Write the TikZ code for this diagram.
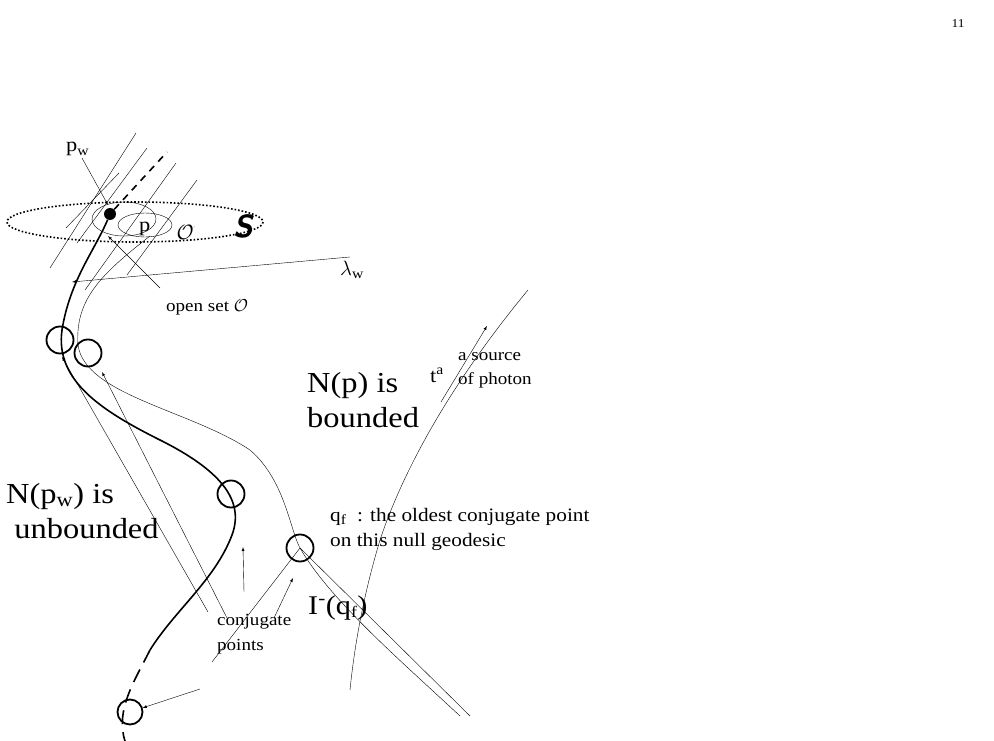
\documentclass[tikz,border=0pt]{standalone}
\usepackage{fontspec}
\setmainfont[FakeStretch=1.12]{Liberation Serif}
\usetikzlibrary{calc}

\begin{document}
\begin{tikzpicture}[x=1pt,y=-1pt]
\tikzstyle{lbl}=[font=\fontsize{20}{25}\selectfont, inner sep=0pt, anchor=base west, align=left]
\tikzstyle{big}=[font=\fontsize{29}{35}\selectfont, inner sep=0pt, anchor=base west, align=left]
\tikzstyle{ring}=[draw, circle, line width=1.8pt, minimum size=27pt, inner sep=0pt]
\tikzstyle{ptr}=[-latex, thin]

\useasboundingbox (0,0) rectangle (994,741);

\node[font=\fontsize{12}{14}\selectfont] (page) at (958,24) {11};

% the surface S and its open sets
\draw[dotted, line width=1.6pt] (135,222) ellipse [x radius=128, y radius=20];
\draw (124,219) ellipse [x radius=32, y radius=17];
\draw (145,225) ellipse [x radius=27, y radius=12];
\node[lbl] (plab) at (139,232) {p};
\node[font=\fontsize{22}{22}\selectfont, inner sep=0pt] (oprime) at (186,232) {$\mathcal{O}$\textsuperscript{\tiny\'{}}};
\node[font=\fontsize{32}{32}\selectfont\bfseries\itshape, inner sep=0pt] (Slab) at (243,226) {\textsf{S}};

% null lines through the set
\coordinate (h1a) at (50,268);  \coordinate (h1b) at (136,133);
\coordinate (h2a) at (66,228);  \coordinate (h2b) at (119,173);
\coordinate (h3a) at (77,243);  \coordinate (h3b) at (147,148);
\coordinate (h4a) at (85,290);  \coordinate (h4b) at (176,163);
\coordinate (h5a) at (127,275); \coordinate (h5b) at (197,180);
\foreach \i in {1,...,5}{ \draw (h\i a) -- (h\i b); }

% the geodesic through p_w
\node[circle, fill, inner sep=0pt, minimum size=12pt] (pw) at (110,214) {};
\draw[line width=1.6pt, dash pattern=on 7pt off 6pt] (pw) -- (167,152);
\draw[line width=1.6pt] (pw) .. controls (95,250) and (70,280) .. (62,330)
  .. controls (55,380) and (100,410) .. (160,440)
  .. controls (220,470) and (245,500) .. (232,535)
  .. controls (215,580) and (175,610) .. (150,650) coordinate (dashstart);
\draw[line width=1.6pt, dash pattern=on 14pt off 8pt] (dashstart) .. controls (135,680) and (115,710) .. (125,741);

% the geodesic through p
\draw (150,236) .. controls (100,275) and (75,300) .. (78,345)
  .. controls (85,395) and (190,410) .. (250,450)
  .. controls (285,480) and (290,530) .. (300,548) coordinate (qf)
  .. controls (330,600) and (400,660) .. (460,716);
\coordinate (cone1) at (212,662);
\coordinate (cone2) at (470,716);
\draw (qf) -- (cone1);
\draw (qf) -- (cone2);

% rings at conjugate points
\node[ring] (c1) at (60,340) {};
\node[ring] (c2) at (88,353) {};
\node[ring] (c3) at (231,494) {};
\node[ring] (c4) at (300,548) {};
\node[ring, minimum size=25pt] (c5) at (130,712) {};

% source of photon
\draw (528,290) .. controls (470,360) and (410,450) .. (380,540) .. controls (365,590) and (355,640) .. (350,690);
\coordinate (tbase) at (441,402);
\coordinate (ttip) at (487,326);
\draw[ptr] (tbase) -- (ttip);
\node[lbl] (ta) at (430,382) {t\textsuperscript{a}};
\node[lbl, font=\fontsize{17}{24}\selectfont] (source) at (458,384) {a source\\of photon};

% labels and pointers
\node[lbl] (pwlab) at (66,152) {p\textsubscript{\fontsize{14}{14}\selectfont w}};
\coordinate (pwtail) at (82,158);
\draw[ptr] (pwtail) -- (108,205);
\node[lbl] (lw) at (340,275) {$\lambda$\textsubscript{\fontsize{14}{14}\selectfont w}};
\coordinate (lwtail) at (350,257);
\coordinate (lwhead) at (72,282);
\draw[ptr] (lwtail) -- (lwhead);
\node[lbl, font=\fontsize{17}{20}\selectfont] (openset) at (166,311) {open set \textit{$\mathcal{O}$}};
\coordinate (ostail) at (160,288);
\coordinate (oshead) at (108,236);
\draw[ptr] (ostail) -- (oshead);

\node[big] (Np) at (307,427) {N(p) is\\bounded};
\node[big] (Npw) at (6,538) {N(p\textsubscript{\fontsize{20}{20}\selectfont w}) is\\\ unbounded};
\node[lbl, font=\fontsize{19}{25}\selectfont] (qflab) at (330,546) {q\textsubscript{\fontsize{14}{14}\selectfont f}\ \ : the oldest conjugate point\\on this null geodesic};
\node[lbl, font=\fontsize{27}{30}\selectfont] (Im) at (308,614) {I\textsuperscript{-}(q\textsubscript{\fontsize{16}{16}\selectfont f})};
\coordinate (imtail) at (274,618);
\coordinate (imhead) at (293,578);
\draw[ptr] (imtail) -- (imhead);

\node[lbl, font=\fontsize{17}{25}\selectfont] (conj) at (217,650) {conjugate\\points};
\coordinate (a1) at (208,612);
\coordinate (a2) at (227,618);
\coordinate (a3) at (244,592);
\coordinate (a4) at (200,689);
\draw[ptr] (a1) -- (62,357);
\draw[ptr] (a2) -- (102,372);
\draw[ptr] (a3) -- (243,547);
\draw[ptr] (a4) -- (c5);
\end{tikzpicture}
\end{document}
